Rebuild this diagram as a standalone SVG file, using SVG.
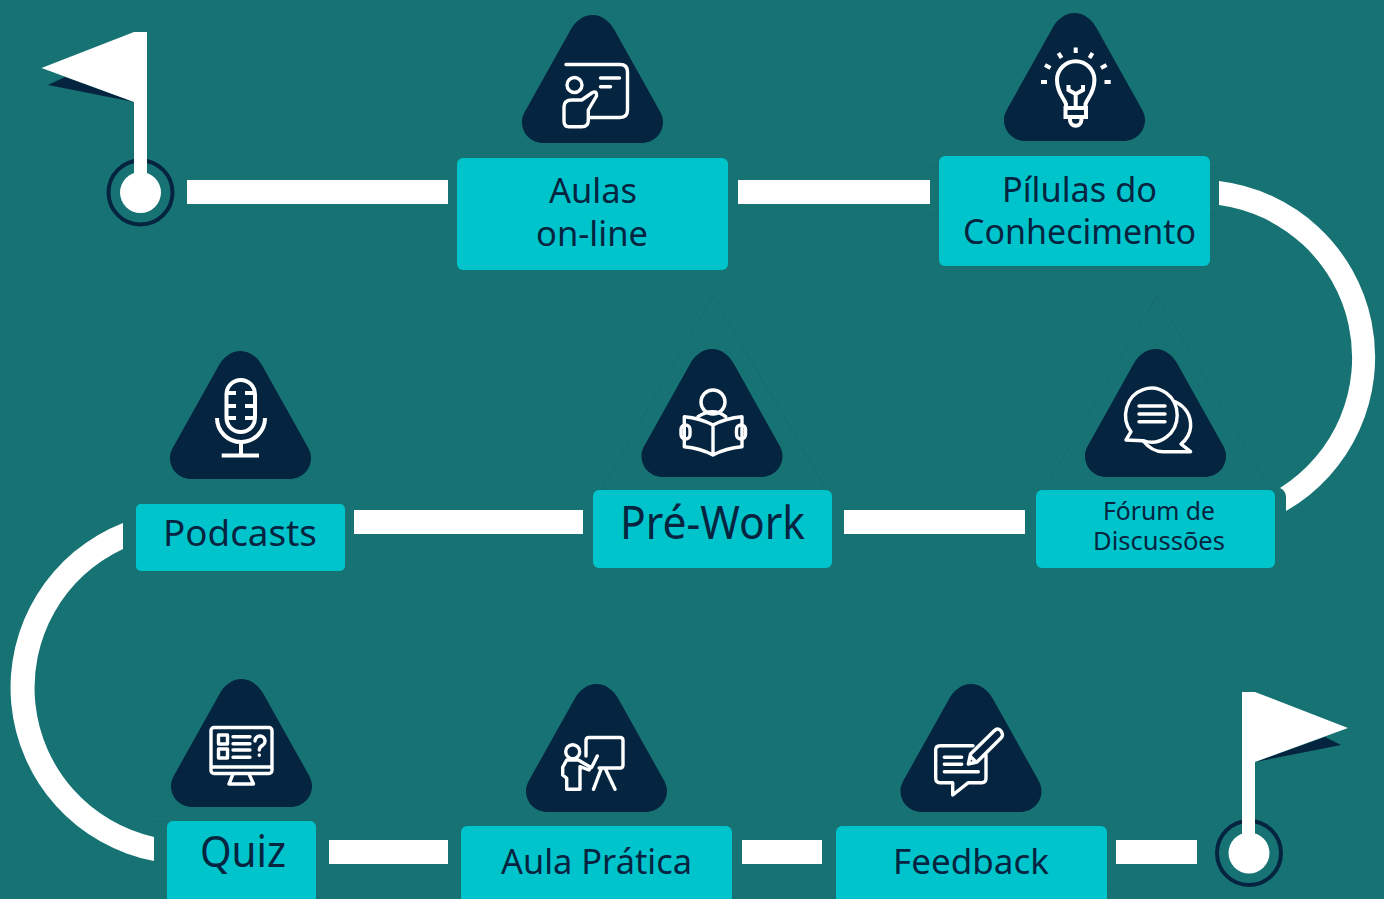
<svg xmlns="http://www.w3.org/2000/svg" width="1384" height="899" viewBox="0 0 1384 899">
<style>
.box{fill:#00c4cc}
.tri{fill:#05243f}
.faint{fill:none;stroke:#0f5f66;stroke-width:1;opacity:.35}
.ic{fill:none;stroke:#fff;stroke-width:3.4;stroke-linecap:round;stroke-linejoin:round}
.ics{fill:none;stroke:#fff;stroke-width:4;stroke-linecap:butt;stroke-linejoin:miter}
.bar{fill:#fff}
.ring{fill:none;stroke:#05243f;stroke-width:4}
.w{fill:#fff}
.d{fill:#05243f}
text{font-family:"Noto Sans","Liberation Sans",sans-serif;fill:#05243f;text-anchor:middle}
</style>
<defs>
<path id="t" d="M-22,15 C-17,6 -9,0 0,0 C9,0 17,6 22,15 L65,92 C69,99 70.5,102 70.5,107 C70.5,119 61,128 49,128 L-49,128 C-61,128 -70.5,119 -70.5,107 C-70.5,102 -69,99 -65,92 Z"/>
</defs>
<rect width="1384" height="899" fill="#177373"/>

<g id="faint-frames">
<path class="faint" d="M601,490 L713,296 L827,490"/>
<path class="faint" d="M1044,490 L1157,296 L1271,490"/>
<path class="faint" d="M930,167 H1219 M930,214 H1219"/>
<path class="faint" d="M1107,822 H1116 M1107,889 H1116 M153,821 H167"/>
</g>

<g id="connectors">
<rect class="bar" x="187" y="180" width="261" height="24"/>
<rect class="bar" x="738" y="180" width="192" height="24"/>
<rect class="bar" x="354" y="510" width="229" height="24"/>
<rect class="bar" x="844" y="510" width="181" height="24"/>
<rect class="bar" x="329" y="840" width="119" height="24"/>
<rect class="bar" x="742" y="840" width="80" height="24"/>
<rect class="bar" x="1116" y="840" width="81" height="24"/>
<path class="bar" d="M1219,181 A177.4,177.4 0 0 1 1286,511 L1286,496 Q1285,490 1280,488 A154,154 0 0 0 1219,205 Z"/>
<path class="bar" d="M123,523 A176.6,176.6 0 0 0 154,861 L154,837 A153,153 0 0 1 123,549 Z"/>
</g>

<g id="start-flag">
<path class="d" d="M48,85 L65,77 L134,102 Z"/>
<path class="w" d="M41.500,68 L134,32 H147 V190 H134 V102 Z"/>
<circle class="ring" cx="140.500" cy="192.500" r="32"/>
<rect class="w" x="134" y="150" width="13" height="30"/>
<circle class="w" cx="140.500" cy="192.500" r="20.500"/>
</g>

<g id="end-flag">
<path class="d" d="M1341,745 L1325,737 L1255,762 Z"/>
<path class="w" d="M1348,728 L1255,692 H1242 V850 H1255 V762 Z"/>
<circle class="ring" cx="1249" cy="853" r="32"/>
<rect class="w" x="1242" y="810" width="13" height="30"/>
<circle class="w" cx="1249" cy="853" r="20.500"/>
</g>

<g id="node-aulas">
<use href="#t" class="tri" x="592.500" y="15"/>
<path class="ic" d="M566,64.500 H620 Q627.500,64.500 627.500,72 V110 Q627.500,117.500 620,117.500 H589 M600.500,78 H619.500 M600.500,86.700 H610.500"/>
<circle class="ic" cx="574.500" cy="85" r="7.500"/>
<path class="ic" d="M564,107 Q564,100 572,100 H581.700 L592.500,92.500 Q597,90.500 596.500,96 L588.300,110 V120.500 Q588.300,126.700 581.700,126.700 H569 Q564,126.700 564,121 Z"/>
<rect class="box" x="457" y="158" width="271" height="112" rx="6"/>
<text x="593" y="203" font-size="35" textLength="88" lengthAdjust="spacingAndGlyphs">Aulas</text>
<text x="592" y="246" font-size="35" textLength="112" lengthAdjust="spacingAndGlyphs">on-line</text>
</g>

<g id="node-pilulas">
<use href="#t" class="tri" x="1074.500" y="13"/>
<path class="ics" d="M1075.700,47.500 V53 M1058.500,53 L1061.500,58 M1092.500,53 L1089.500,58 M1045,65 L1050.500,68 M1106.500,65 L1101,68 M1041,82 H1047 M1104.500,82 H1110.700"/>
<path class="ics" d="M1066,107 V104 C1064,98 1057,93 1057,80 A18.700,18.700 0 0 1 1094.400,80 C1094.400,93 1087.500,98 1085.500,104 V107"/>
<path class="ics" d="M1068.500,85 V90 L1075.700,94 L1083,90 V85 M1075.700,94 V108"/>
<rect class="ics" x="1065.500" y="108" width="20.500" height="9"/>
<path class="ics" d="M1070,117.500 V120 A5.700,5.700 0 0 0 1081.400,120 V117.500"/>
<rect class="box" x="939" y="156" width="271" height="110" rx="6"/>
<text x="1079.500" y="202" font-size="35" textLength="155" lengthAdjust="spacingAndGlyphs">Pílulas do</text>
<text x="1079.500" y="244" font-size="35" textLength="233" lengthAdjust="spacingAndGlyphs">Conhecimento</text>
</g>

<g id="node-podcasts">
<use href="#t" class="tri" x="240.500" y="351"/>
<rect class="ics" x="226.500" y="380" width="28.500" height="52" rx="14.250"/>
<path class="ics" d="M228,393 H236 M245,393 H253 M228,406 H236 M245,406 H253 M228,418 H236 M245,418 H253 M217,418 A24,24 0 0 0 265,418 M241,442 V455 M221.700,455.500 H259"/>
<rect class="box" x="136" y="504" width="209" height="67" rx="5"/>
<text x="240" y="546" font-size="37" textLength="154" lengthAdjust="spacingAndGlyphs">Podcasts</text>
</g>

<g id="node-prework">
<use href="#t" class="tri" x="712" y="349"/>
<circle class="ic" cx="713" cy="402" r="12"/>
<path class="ic" d="M698,416.700 Q713,407 725.700,416.700"/>
<path class="ic" d="M713,425 Q700,418 684.300,416.700 V446.700 Q700,448 713,455 Q726,448 742,446.700 V416.700 Q726,418 713,425 V455"/>
<rect class="ic" x="681" y="425" width="9" height="14" rx="4.500"/>
<rect class="ic" x="736.500" y="425" width="9" height="14" rx="4.500"/>
<rect class="box" x="593" y="490" width="239" height="78" rx="6"/>
<text x="712.500" y="539" font-size="46" textLength="185" lengthAdjust="spacingAndGlyphs">Pré-Work</text>
</g>

<g id="node-forum">
<use href="#t" class="tri" x="1155.500" y="349"/>
<path class="ic" d="M1131,431.700 A25.800,27 0 1 1 1143,440.700 L1126,440 Z"/>
<path class="ic" d="M1175.300,401.700 C1188,408 1191,418 1190.600,427 C1190,434 1186,440 1181,444 L1190.600,451.700 H1164 C1155,452 1148,447 1143,440.700"/>
<path class="ic" d="M1139,406 H1165 M1139,414 H1165 M1139,421.700 H1165"/>
<rect class="box" x="1036" y="490" width="239" height="78" rx="6"/>
<text x="1159" y="520" font-size="25" textLength="112" lengthAdjust="spacingAndGlyphs">Fórum de</text>
<text x="1159" y="550" font-size="25" textLength="132" lengthAdjust="spacingAndGlyphs">Discussões</text>
</g>

<g id="node-quiz">
<use href="#t" class="tri" x="241.500" y="679"/>
<rect class="ic" x="211" y="727.500" width="61" height="46" rx="3"/>
<path class="ic" d="M211.500,767 H271.500 M233,774 L229,784 H253.500 L249,774"/>
<rect class="ic" x="218.500" y="735" width="9" height="9"/>
<rect class="ic" x="218.500" y="749" width="9" height="9"/>
<path class="ic" d="M233,736.700 H250 M233,743.700 H250 M233,750 H250 M233,757.300 H250"/>
<path class="ic" d="M255,741 A5,5 0 1 1 263,745 Q259.300,747 259.300,750 M259.300,755 V755.200"/>
<rect class="box" x="167" y="821" width="149" height="90" rx="6"/>
<text x="243" y="867" font-size="44" textLength="86" lengthAdjust="spacingAndGlyphs">Quiz</text>
</g>

<g id="node-aula-pratica">
<use href="#t" class="tri" x="596.500" y="684"/>
<path class="ic" d="M586,756 V740.500 Q586,737.500 589,737.500 H620 Q623,737.500 623,740.500 V765 Q623,768 620,768 H599 M601.500,768 L593.500,789.300 M605,768 L615,789.300"/>
<circle class="ic" cx="572.700" cy="751.700" r="7"/>
<path class="ic" d="M562.700,767.300 L566.700,760 H578.300 L590.700,767.300 L589,770 L580,766.700 V789.300 H566.700 V778.300 L562.700,775 Z M591.700,767.300 L597.300,756"/>
<rect class="box" x="461" y="826" width="271" height="90" rx="6"/>
<text x="596.500" y="874" font-size="35" textLength="191" lengthAdjust="spacingAndGlyphs">Aula Prática</text>
</g>

<g id="node-feedback">
<use href="#t" class="tri" x="971" y="684"/>
<path class="ic" d="M973,745.700 H940 Q935.700,745.700 935.700,750 V778.300 Q935.700,782.700 940,782.700 H952.700 V795 L968.300,782.700 H981.700 Q986,782.700 986,778.300 V755"/>
<path class="ic" d="M944.300,757.300 H961.700 M944.300,764.300 H961.700 M944.300,771.700 H978.300"/>
<path class="ic" d="M968.300,764 L970.500,754 L994,731 Q998,727 1001,731 Q1004,735 1001,738 L977,762 Z M970,756 L976,762"/>
<rect class="box" x="836" y="826" width="271" height="90" rx="6"/>
<text x="971" y="874" font-size="35" textLength="156" lengthAdjust="spacingAndGlyphs">Feedback</text>
</g>
</svg>
